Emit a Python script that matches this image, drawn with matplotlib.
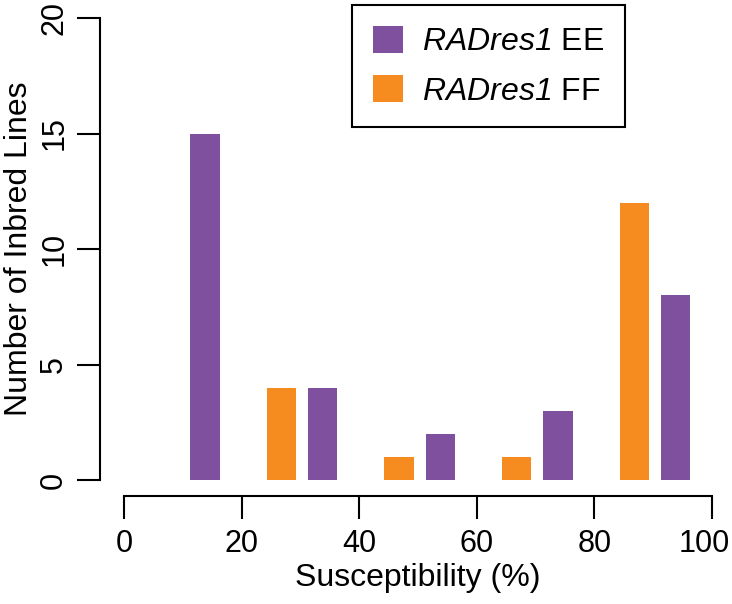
import matplotlib
matplotlib.use('Agg')
import matplotlib.pyplot as plt
import matplotlib.transforms as mtransforms
import numpy as np

# susceptibility bins (group starts) and counts of inbred lines per genotype
bin_starts = [0, 20, 40, 60, 80]
counts_ee = [15, 4, 2, 3, 8]   # RADres1 EE (purple)
counts_ff = [0, 4, 1, 1, 12]   # RADres1 FF (orange)
labels = [r'$\it{RADres1}$ EE', r'$\it{RADres1}$ FF']

purple = '#7E509E'
orange = '#F68B1F'

plt.rcParams['font.family'] = ['Liberation Sans', 'DejaVu Sans']
plt.rcParams['mathtext.fontset'] = 'custom'
plt.rcParams['mathtext.it'] = 'Liberation Sans:italic'
plt.rcParams['mathtext.rm'] = 'Liberation Sans:italic'  # digits inside \it use rm

fs = 23

fig = plt.figure(figsize=(7.32, 6.04), dpi=100)
ax = fig.add_axes([124 / 732, 124 / 604, 588 / 732, 462 / 604])

x = np.array(bin_starts, dtype=float)
w = 5.0
ax.bar(x + 6.8, counts_ff, width=w, color=orange, label=labels[1], zorder=2)
ax.bar(x + 13.8, counts_ee, width=w, color=purple, label=labels[0], zorder=2)

ax.set_xlim(0, 100)
ax.set_ylim(0, 20)

for s in ['top', 'right']:
    ax.spines[s].set_visible(False)
ax.spines['left'].set_position(('outward', 17))
ax.spines['bottom'].set_position(('outward', 11.5))
ax.spines['left'].set_bounds(0, 20)
ax.spines['bottom'].set_bounds(0, 100)
for s in ['left', 'bottom']:
    ax.spines[s].set_linewidth(1.5)

ax.set_xticks([0, 20, 40, 60, 80, 100])
ax.set_yticks([0, 5, 10, 15, 20])
ax.tick_params(axis='both', length=16.5, width=1.5, labelsize=22)
ax.tick_params(axis='x', pad=7)
ax.tick_params(axis='y', pad=6)
for t in ax.get_yticklabels():
    t.set_rotation(90)
    t.set_va('center')
# pull the last x label in a little so it stays inside the figure
last = ax.get_xticklabels()[-1]
last.set_transform(last.get_transform() +
                   mtransforms.ScaledTranslation(-8 / 100, 0, fig.dpi_scale_trans))

ax.set_xlabel('Susceptibility (%)', fontsize=fs, labelpad=3)
ax.set_ylabel('Number of Inbred Lines', fontsize=fs, labelpad=4)

h, l = ax.get_legend_handles_labels()
leg = fig.legend([h[1], h[0]], [l[1], l[0]], loc='upper left',
                 bbox_to_anchor=(352 / 732, 1 - 5 / 604),
                 fontsize=fs, frameon=True, fancybox=False,
                 edgecolor='black', framealpha=1,
                 handlelength=0.94, handleheight=0.94, handletextpad=0.6,
                 borderpad=0.65, labelspacing=0.55, borderaxespad=0)
leg.get_frame().set_linewidth(1.5)

fig.savefig('out.png', dpi=100)
